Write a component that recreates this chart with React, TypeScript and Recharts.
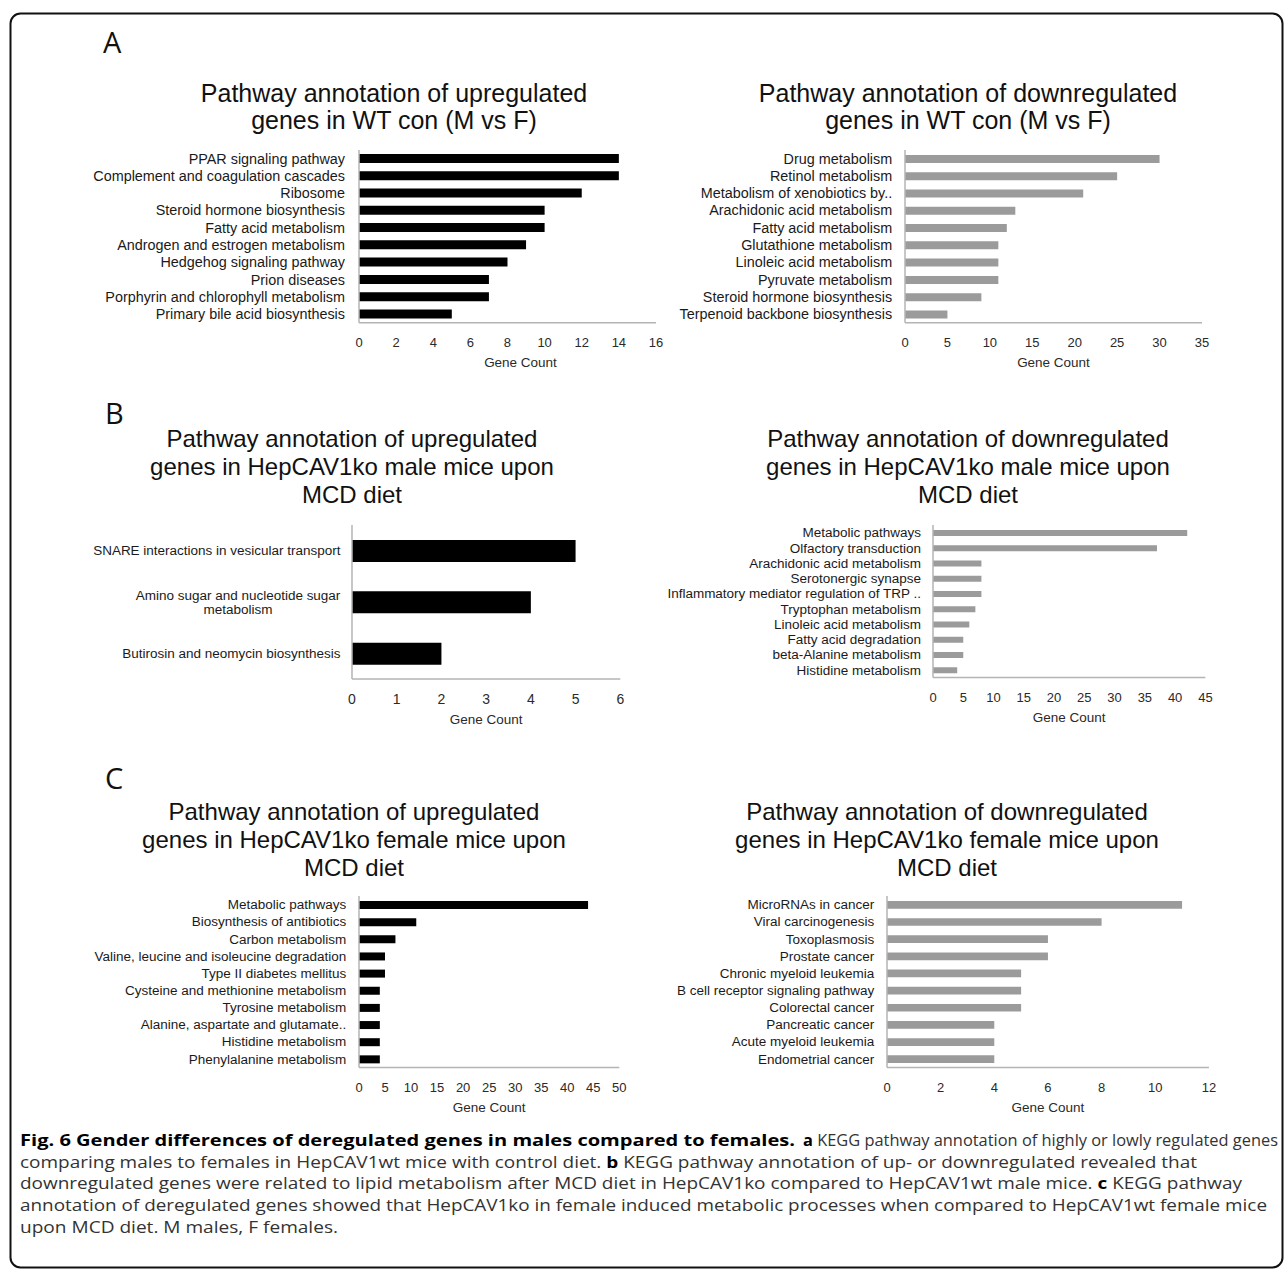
import React from "react";
import { BarChart, Bar, XAxis, YAxis } from "recharts";

const FONT = '"Liberation Sans", Arial, Helvetica, sans-serif';
const CAP_FONT = '"Open Sans", "Noto Sans", sans-serif';

// A: WT con (M vs F)
const aUpNames = [
  "PPAR signaling pathway",
  "Complement and coagulation cascades",
  "Ribosome",
  "Steroid hormone biosynthesis",
  "Fatty acid metabolism",
  "Androgen and estrogen metabolism",
  "Hedgehog signaling pathway",
  "Prion diseases",
  "Porphyrin and chlorophyll metabolism",
  "Primary bile acid biosynthesis",
];
const aUpCounts = [14, 14, 12, 10, 10, 9, 8, 7, 7, 5];
const aUpTicks = [0, 2, 4, 6, 8, 10, 12, 14, 16];

const aDownNames = [
  "Drug metabolism",
  "Retinol metabolism",
  "Metabolism of xenobiotics by..",
  "Arachidonic acid metabolism",
  "Fatty acid metabolism",
  "Glutathione metabolism",
  "Linoleic acid metabolism",
  "Pyruvate metabolism",
  "Steroid hormone biosynthesis",
  "Terpenoid backbone biosynthesis",
];
const aDownCounts = [30, 25, 21, 13, 12, 11, 11, 11, 9, 5];
const aDownTicks = [0, 5, 10, 15, 20, 25, 30, 35];

// B: HepCAV1ko male mice, MCD diet
const bUpNames = [
  "SNARE interactions in vesicular transport",
  "Amino sugar and nucleotide sugar\nmetabolism",
  "Butirosin and neomycin biosynthesis",
];
const bUpCounts = [5, 4, 2];
const bUpTicks = [0, 1, 2, 3, 4, 5, 6];

const bDownNames = [
  "Metabolic pathways",
  "Olfactory transduction",
  "Arachidonic acid metabolism",
  "Serotonergic synapse",
  "Inflammatory mediator regulation of TRP ..",
  "Tryptophan metabolism",
  "Linoleic acid metabolism",
  "Fatty acid degradation",
  "beta-Alanine metabolism",
  "Histidine metabolism",
];
const bDownCounts = [42, 37, 8, 8, 8, 7, 6, 5, 5, 4];
const bDownTicks = [0, 5, 10, 15, 20, 25, 30, 35, 40, 45];

// C: HepCAV1ko female mice, MCD diet
const cUpNames = [
  "Metabolic pathways",
  "Biosynthesis of antibiotics",
  "Carbon metabolism",
  "Valine, leucine and isoleucine degradation",
  "Type II diabetes mellitus",
  "Cysteine and methionine metabolism",
  "Tyrosine metabolism",
  "Alanine, aspartate and glutamate..",
  "Histidine metabolism",
  "Phenylalanine metabolism",
];
const cUpCounts = [44, 11, 7, 5, 5, 4, 4, 4, 4, 4];
const cUpTicks = [0, 5, 10, 15, 20, 25, 30, 35, 40, 45, 50];

const cDownNames = [
  "MicroRNAs in cancer",
  "Viral carcinogenesis",
  "Toxoplasmosis",
  "Prostate cancer",
  "Chronic myeloid leukemia",
  "B cell receptor signaling pathway",
  "Colorectal cancer",
  "Pancreatic cancer",
  "Acute myeloid leukemia",
  "Endometrial cancer",
];
const cDownCounts = [11, 8, 6, 6, 5, 5, 5, 4, 4, 4];
const cDownTicks = [0, 2, 4, 6, 8, 10, 12];

const upTitle2 = ["Pathway annotation of upregulated", "genes in WT con (M vs F)"];
const downTitle2 = ["Pathway annotation of downregulated", "genes in WT con (M vs F)"];
const upTitleMale = ["Pathway annotation of upregulated", "genes in HepCAV1ko male mice upon", "MCD diet"];
const downTitleMale = ["Pathway annotation of downregulated", "genes in HepCAV1ko male mice upon", "MCD diet"];
const upTitleFemale = ["Pathway annotation of upregulated", "genes in HepCAV1ko female mice upon", "MCD diet"];
const downTitleFemale = ["Pathway annotation of downregulated", "genes in HepCAV1ko female mice upon", "MCD diet"];

// caption: each row is a list of runs of [text, bold]
const captionRows: [string, boolean][][][] = [
  [
    [["Fig. 6 Gender differences of deregulated genes in males compared to females.", true]],
    [["a", true], [" KEGG pathway annotation of highly or lowly regulated genes", false]],
  ],
  [[
    ["comparing males to females in HepCAV1wt mice with control diet. ", false],
    ["b", true],
    [" KEGG pathway annotation of up- or downregulated revealed that", false],
  ]],
  [[
    ["downregulated genes were related to lipid metabolism after MCD diet in HepCAV1ko compared to HepCAV1wt male mice. ", false],
    ["c", true],
    [" KEGG pathway", false],
  ]],
  [[["annotation of deregulated genes showed that HepCAV1ko in female induced metabolic processes when compared to HepCAV1wt female mice", false]]],
  [[["upon MCD diet. M males, F females.", false]]],
];
// [x, width] of each run, as laid out in the figure
const captionSpans = [
  [[20, 775], [803, 475]],
  [[20, 1177]],
  [[20, 1222]],
  [[20, 1247]],
  [[20, 318]],
];

let ctx: CanvasRenderingContext2D | null = null;
function measure(s: string, font: string) {
  if (!ctx) ctx = document.createElement("canvas").getContext("2d");
  if (!ctx) return s.length * 6.5;
  ctx.font = font;
  return ctx.measureText(s).width;
}

function CatTick(props: any) {
  const { x, y, payload, labelSize } = props;
  const lines = String(payload.value).split("\n");
  if (lines.length === 1) {
    return (
      <text x={x} y={y} dy="0.35em" textAnchor="end" fontSize={labelSize} fontFamily={FONT} fill="#1a1a1a">
        {lines[0]}
      </text>
    );
  }
  const w = Math.max(...lines.map((l) => measure(l, `${labelSize}px ${FONT}`)));
  const lh = 14;
  return (
    <text textAnchor="middle" fontSize={labelSize} fontFamily={FONT} fill="#1a1a1a">
      {lines.map((l, i) => (
        <tspan key={i} x={x - w / 2} y={y + (i - (lines.length - 1) / 2) * lh} dy="0.35em">
          {l}
        </tspan>
      ))}
    </text>
  );
}

type PanelProps = {
  names: string[];
  counts: number[];
  ticks: number[];
  color: string;
  barSize: number;
  left: number;
  top: number;
  w: number;
  h: number;
  gap: number;
  labelSize: number;
  tickSize: number;
  titleDx?: number;
};

const AXIS = "#b4b4b4";

function Panel(p: PanelProps) {
  const data = p.names.map((name, i) => ({ name, count: p.counts[i] }));
  const padL = 300;
  const padT = 6;
  const padR = 20;
  const padB = 50;
  return (
    <div style={{ position: "absolute", left: p.left - padL, top: p.top - padT }}>
      <BarChart
        layout="vertical"
        width={padL + p.w + padR}
        height={padT + p.h + padB}
        data={data}
        margin={{ top: padT, right: padR, bottom: 0, left: 0 }}
      >
        <XAxis
          type="number"
          domain={[0, p.ticks[p.ticks.length - 1]]}
          ticks={p.ticks}
          interval={0}
          height={padB}
          tickSize={0}
          tickMargin={15}
          tickLine={false}
          axisLine={{ stroke: AXIS, strokeWidth: 1.5 }}
          tick={{ fontSize: p.tickSize, fill: "#2a2a2a", fontFamily: FONT }}
          label={{
            value: "Gene Count",
            position: "bottom",
            offset: -15,
            dx: p.titleDx || 0,
            fontSize: 13.5,
            fill: "#2a2a2a",
            fontFamily: FONT,
          }}
        />
        <YAxis
          type="category"
          dataKey="name"
          width={padL}
          interval={0}
          tickSize={0}
          tickMargin={p.gap}
          tickLine={false}
          axisLine={{ stroke: AXIS, strokeWidth: 1.5 }}
          tick={(tp: any) => <CatTick {...tp} labelSize={p.labelSize} />}
        />
        <Bar dataKey="count" fill={p.color} barSize={p.barSize} isAnimationActive={false} />
      </BarChart>
    </div>
  );
}

function Title({ lines, cx, y0, size, step }: { lines: string[]; cx: number; y0: number; size: number; step: number }) {
  return (
    <text textAnchor="middle" fontFamily={FONT} fontSize={size} fill="#111">
      {lines.map((l, i) => (
        <tspan key={i} x={cx} y={y0 + i * step}>
          {l}
        </tspan>
      ))}
    </text>
  );
}

export default function App() {
  const BLACK = "#000000";
  const GREY = "#9b9b9b";
  return (
    <div style={{ position: "absolute", left: 0, top: 0, width: 1285, height: 1270, background: "#fff", overflow: "hidden" }}>
      <svg width={1285} height={1270} style={{ position: "absolute", left: 0, top: 0 }}>
        <rect x={10.5} y={13.5} width={1272} height={1254} rx={10} fill="none" stroke="#111" strokeWidth={2} />
        <text x={103} y={53} fontFamily={CAP_FONT} fontSize={29} fill="#111">A</text>
        <text x={105} y={424} fontFamily={CAP_FONT} fontSize={29} fill="#111">B</text>
        <text x={105} y={789} fontFamily={CAP_FONT} fontSize={29} fill="#111">C</text>

        <Title lines={upTitle2} cx={394} y0={102} size={25} step={27} />
        <Title lines={downTitle2} cx={968} y0={102} size={25} step={27} />
        <Title lines={upTitleMale} cx={352} y0={447} size={24} step={28} />
        <Title lines={downTitleMale} cx={968} y0={447} size={24} step={28} />
        <Title lines={upTitleFemale} cx={354} y0={820} size={24} step={28} />
        <Title lines={downTitleFemale} cx={947} y0={820} size={24} step={28} />

        {captionRows.map((row, i) =>
          row.map((runs, j) => {
            const [x, len] = captionSpans[i][j];
            return (
              <text
                key={`${i}-${j}`}
                x={x}
                y={1146 + i * 21.7}
                textLength={len}
                lengthAdjust="spacingAndGlyphs"
                fontFamily={CAP_FONT}
                fontSize={16}
                fill="#333"
                style={{ whiteSpace: "pre" }}
              >
                {runs.map(([t, b], k) => (
                  <tspan key={k} fontWeight={b ? 700 : 400} fill={b ? "#000" : "#333"}>
                    {t}
                  </tspan>
                ))}
              </text>
            );
          })
        )}
      </svg>

      <Panel names={aUpNames} counts={aUpCounts} ticks={aUpTicks} color={BLACK} barSize={9}
        left={358.7} top={150} w={297} h={172.7} gap={14} labelSize={14.4} tickSize={13} titleDx={13} />
      <Panel names={aDownNames} counts={aDownCounts} ticks={aDownTicks} color={GREY} barSize={8}
        left={905.3} top={150} w={297} h={172.7} gap={12.8} labelSize={14.4} tickSize={13} />
      <Panel names={bUpNames} counts={bUpCounts} ticks={bUpTicks} color={BLACK} barSize={22}
        left={351.7} top={524.5} w={268.3} h={154} gap={11.5} labelSize={13.5} tickSize={14} />
      <Panel names={bDownNames} counts={bDownCounts} ticks={bDownTicks} color={GREY} barSize={6}
        left={933.3} top={524.5} w={272.4} h={152.5} gap={12} labelSize={13.5} tickSize={13} />
      <Panel names={cUpNames} counts={cUpCounts} ticks={cUpTicks} color={BLACK} barSize={8}
        left={358.7} top={895.5} w={260.3} h={171.5} gap={12.8} labelSize={13.5} tickSize={13} />
      <Panel names={cDownNames} counts={cDownCounts} ticks={cDownTicks} color={GREY} barSize={7.7}
        left={886.9} top={895.5} w={321.9} h={171.5} gap={12.8} labelSize={13.5} tickSize={13} />
    </div>
  );
}
